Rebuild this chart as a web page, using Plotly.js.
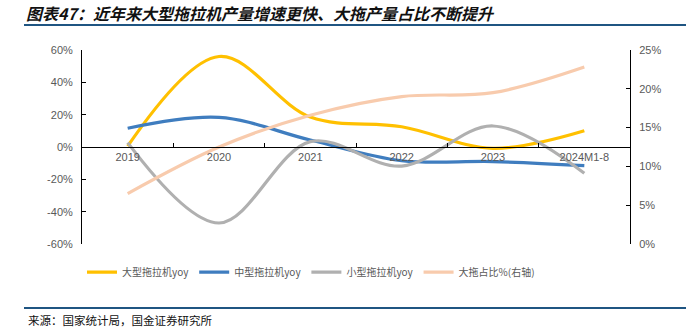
<!DOCTYPE html>
<html>
<head>
<meta charset="utf-8">
<script src="https://cdn.plot.ly/plotly-3.0.1.min.js"></script>
<style>
html,body{margin:0;padding:0;background:#fff;}
#chart{width:695px;height:330px;}
</style>
</head>
<body>
<div id="chart"></div>
<script>
var categories = ["2019", "2020", "2021", "2022", "2023", "2024M1-8"];
var largeYoy = [0.5, 56, 18.5, 12.5, -0.8, 10];
var mediumYoy = [11.6, 18.3, 4.3, -8.5, -9, -11.5];
var smallYoy = [2.7, -47, 3.3, -11.8, 13, -16.3];
var largeShare = [6.5, 12.5, 16.6, 19.0, 19.5, 22.8];
var seriesNames = ["大型拖拉机yoy", "中型拖拉机yoy", "小型拖拉机yoy", "大拖占比%(右轴)"];
var leftTicks = [-60, -40, -20, 0, 20, 40, 60];
var rightTicks = [0, 5, 10, 15, 20, 25];
var titleText = "图表47：近年来大型拖拉机产量增速更快、大拖产量占比不断提升";
var sourceText = "来源：国家统计局，国金证券研究所";

var cjk = "'Noto Sans CJK SC', 'Liberation Sans', sans-serif";
var latin = "'Liberation Sans', Arial, sans-serif";

function pct(v) { return v + "%"; }

function mk(y, name, color, axis) {
  return {
    x: categories, y: y, name: name, type: "scatter", mode: "lines",
    yaxis: axis,
    line: {color: color, width: 3.2, shape: "spline", smoothing: 1},
    hoverinfo: "skip"
  };
}

var traces = [
  mk(largeYoy, seriesNames[0], "#FFC000", "y"),
  mk(mediumYoy, seriesNames[1], "#3F7DBF", "y"),
  mk(smallYoy, seriesNames[2], "#B0B0B0", "y"),
  mk(largeShare, seriesNames[3], "#F8CBAD", "y2")
];
// draw share line beneath others
traces = [traces[3], traces[0], traces[1], traces[2]];
traces[0].showlegend = false;
var legendShare = mk([null], seriesNames[3], "#F8CBAD", "y2");
legendShare.x = [categories[0]];
traces.push(legendShare);

var layout = {
  width: 695, height: 330,
  margin: {l: 82, r: 65, t: 50, b: 86},
  paper_bgcolor: "#fff", plot_bgcolor: "#fff",
  showlegend: true,
  title: {
    text: titleText,
    x: 26/695, xanchor: "left", xref: "container",
    y: 1 - 14/330, yanchor: "middle", yref: "container",
    font: {family: cjk, size: 16, color: "#111", style: "italic", weight: "bold"}
  },
  xaxis: {
    type: "category",
    anchor: "free", position: 0.5,
    showline: true, linecolor: "#000", linewidth: 1,
    ticks: "inside", tickson: "boundaries", ticklen: 4, tickcolor: "#000",
    showgrid: false, zeroline: false,
    tickfont: {family: latin, size: 11, color: "#595959"},
    range: [-0.5, 5.5]
  },
  yaxis: {
    range: [-60, 60], tickmode: "array", tickvals: leftTicks, ticktext: leftTicks.map(pct),
    showline: true, linecolor: "#000", linewidth: 1,
    ticks: "inside", ticklen: 4, tickcolor: "#000",
    showgrid: false, zeroline: false,
    tickfont: {family: latin, size: 11, color: "#595959"},
    ticklabelstandoff: 6
  },
  yaxis2: {
    overlaying: "y", side: "right",
    range: [0, 25], tickmode: "array", tickvals: rightTicks, ticktext: rightTicks.map(pct),
    showline: true, linecolor: "#000", linewidth: 1,
    ticks: "inside", ticklen: 4, tickcolor: "#000",
    showgrid: false, zeroline: false,
    tickfont: {family: latin, size: 11, color: "#595959"},
    ticklabelstandoff: 6
  },
  legend: {
    orientation: "h", x: 0, xanchor: "left", y: -0.07, yanchor: "top",
    font: {family: cjk, size: 10, color: "#595959"},
    itemwidth: 30,
    traceorder: "normal"
  },
  shapes: [
    {type: "line", xref: "paper", yref: "paper",
     x0: (24-82)/548, x1: (686-82)/548, y0: (244-25)/194, y1: (244-25)/194,
     line: {color: "#1F5582", width: 2}},
    {type: "line", xref: "paper", yref: "paper",
     x0: (24-82)/548, x1: (686-82)/548, y0: (244-308)/194, y1: (244-308)/194,
     line: {color: "#1F5582", width: 2}}
  ],
  annotations: [
    {text: sourceText, xref: "paper", yref: "paper",
     x: (26-82)/548, xanchor: "left", y: (244-320)/194, yanchor: "middle",
     showarrow: false, font: {family: cjk, size: 11.5, color: "#111"}}
  ]
};

Plotly.newPlot("chart", traces, layout, {staticPlot: true, displayModeBar: false});
</script>
</body>
</html>
